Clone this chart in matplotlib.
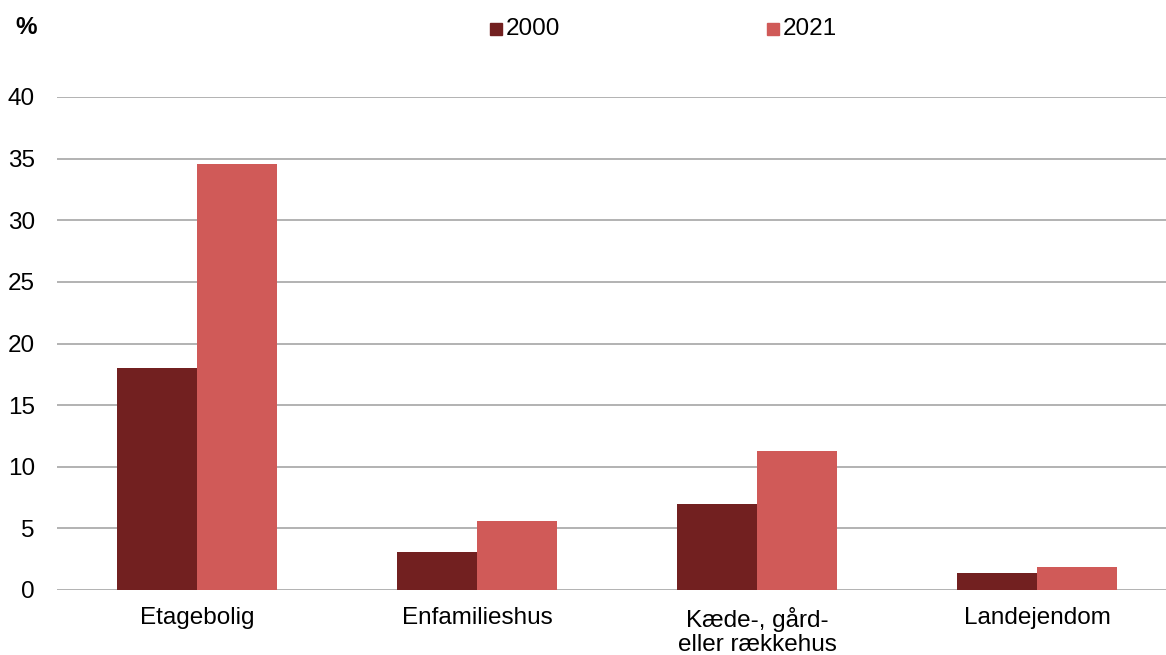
import matplotlib.pyplot as plt
import numpy as np

plt.rcParams["font.family"] = ["Liberation Sans", "DejaVu Sans"]

categories = ["Etagebolig", "Enfamilieshus", "Kæde-, gård-\neller rækkehus", "Landejendom"]
years = ["2000", "2021"]
values_2000 = [18.0, 3.1, 7.0, 1.4]
values_2021 = [34.6, 5.6, 11.3, 1.9]
colors = ["#722020", "#D05A58"]

fig = plt.figure(figsize=(11.66, 6.55), dpi=100)
ax = fig.add_axes([57 / 1166, 1 - 590 / 655, 1 - 57 / 1166, (590 - 97) / 655])

x = np.arange(len(categories))
w = 0.286
ax.bar(x - w / 2, values_2000, w, color=colors[0], label=years[0], zorder=3)
ax.bar(x + w / 2, values_2021, w, color=colors[1], label=years[1], zorder=3)

ax.set_ylim(0, 40)
ax.set_xlim(-0.5, 3.46)
ax.set_yticks(range(0, 41, 5))
ax.yaxis.grid(True, color="#A6A6A6", linewidth=1.2, zorder=0)
ax.set_xticks(x)
ax.set_xticklabels(categories, fontsize=17.5, linespacing=1.15)
ax.tick_params(axis="both", length=0, labelsize=17.5)
ax.tick_params(axis="x", pad=12)
ax.tick_params(axis="y", pad=16)
for s in ax.spines.values():
    s.set_visible(False)

fig.text(26 / 1166, 1 - 27 / 655, "%", fontsize=17.5, fontweight="bold", va="center", ha="center")

# legend
for i, (lx, lab) in enumerate([(490, years[0]), (767, years[1])]):
    fig.patches.append(plt.Rectangle((lx / 1166, 1 - 35 / 655), 12 / 1166, 12 / 655,
                                     transform=fig.transFigure, color=colors[i]))
    fig.text((lx + 16) / 1166, 1 - 29 / 655, lab, fontsize=17.5, va="center", ha="left")

fig.savefig("out.png", dpi=100)
